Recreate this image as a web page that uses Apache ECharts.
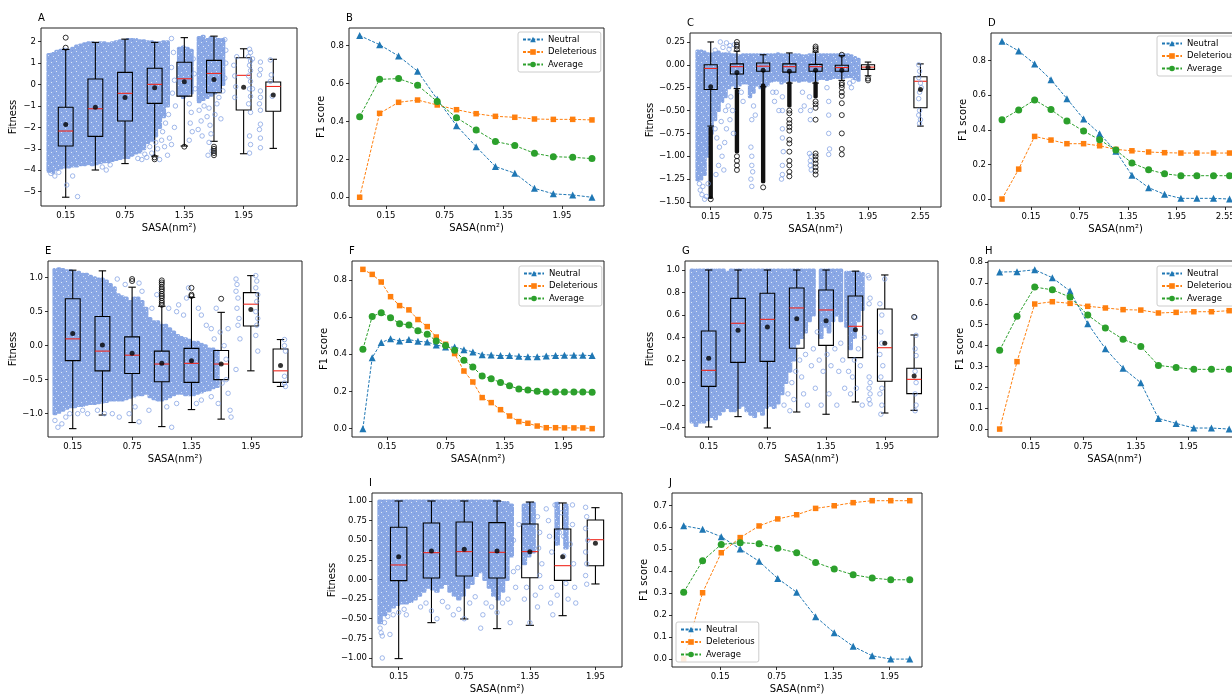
<!DOCTYPE html>
<html><head><meta charset="utf-8">
<script src="https://cdn.jsdelivr.net/npm/echarts@6/dist/echarts.min.js"></script>
<style>html,body{margin:0;padding:0;background:#fff}#c{width:1232px;height:697px}</style>
</head><body><div id="c"></div>
<script>
// ---------------- DATA ----------------
const xTicks = [0.15, 0.75, 1.35, 1.95];
const xTicksWide = [0.15, 0.75, 1.35, 1.95, 2.55];
const seriesNames = ['Neutral', 'Deleterious', 'Average'];

// Box panels: rows = [lowWhisker, Q1, median, Q3, highWhisker]
const A_pos = [0.15, 0.45, 0.75, 1.05, 1.35, 1.65, 1.95, 2.25];
const A_box = [[-5.26,-2.87,-2.17,-1.06,1.64],[-3.99,-2.42,-1.13,0.26,1.97],[-3.69,-1.70,-0.41,0.57,2.12],[-3.34,-0.88,0.01,0.76,1.97],[-2.87,-0.54,0.27,1.04,2.19],[-2.65,-0.38,0.52,1.13,2.26],[-3.23,-1.19,0.43,1.25,1.67],[-2.98,-1.25,-0.09,0.12,1.18]];
const A_mean = [-1.87,-1.06,-0.60,-0.15,0.13,0.24,-0.13,-0.49];
const A_outliers = [[0.15,2.19],[0.15,1.72],[1.05,-3.40],[1.05,-3.49],[1.35,-2.90],[1.65,-2.90],[1.65,-3.00],[1.65,-3.10],[1.65,-3.20],[1.65,-3.30]];
const A_yTicks = [-5,-4,-3,-2,-1,0,1,2];
// dense scatter streaks: [x, low, high]
const A_strips = [[-0.02,-4.05,1.40],[0.02,-4.10,1.45],[0.06,-3.95,1.55],[0.10,-3.90,1.60],[0.14,-3.85,1.65],[0.18,-3.85,1.60],[0.22,-3.80,1.70],[0.26,-3.80,1.80],[0.30,-3.75,1.85],[0.34,-3.75,1.90],[0.38,-3.70,1.95],[0.42,-3.75,1.95],[0.46,-3.70,1.90],[0.50,-3.65,1.95],[0.54,-3.60,1.95],[0.58,-3.60,1.90],[0.62,-3.55,1.95],[0.66,-3.50,2.00],[0.70,-3.45,2.05],[0.74,-3.40,2.05],[0.78,-3.40,2.10],[0.82,-3.30,2.10],[0.86,-3.20,2.10],[0.90,-3.15,2.05],[0.94,-3.00,2.05],[0.98,-2.70,2.00],[1.02,-2.60,2.00],[1.06,-2.40,1.95],[1.10,-2.00,1.95],[1.14,-1.50,2.00],[1.18,-1.00,2.00],[1.30,-0.50,1.70],[1.34,-0.60,1.75],[1.38,-0.50,1.70],[1.42,-0.40,1.60],[1.50,-0.80,2.20],[1.54,-0.70,2.25],[1.58,-0.60,2.10],[1.62,-0.50,2.20],[1.66,-0.40,2.15],[1.70,-0.30,2.10],[1.74,0.00,2.10]];
const A_points = [[0.04,-4.27],[0.16,-4.69],[0.22,-4.27],[0.27,-5.23],[0.0,-4.15],[0.08,-4.1],[0.56,-3.99],[0.52,-3.85],[0.6,-3.75],[0.88,-3.45],[0.92,-3.5],[0.97,-3.4],[0.95,-3.25],[1.0,-2.9],[1.02,-3.2],[1.06,-2.7],[1.08,-3.0],[1.1,-3.5],[1.12,-2.6],[1.13,-2.2],[1.16,-1.8],[1.15,-2.9],[1.19,-1.4],[1.2,-2.5],[1.18,-3.3],[1.22,2.15],[1.24,1.5],[1.22,0.8],[1.25,0.2],[1.23,-0.4],[1.26,-1.0],[1.25,-2.0],[1.22,-2.8],[1.4,-0.9],[1.42,-1.3],[1.41,-1.8],[1.43,-2.2],[1.4,-2.6],[1.44,1.2],[1.45,0.5],[1.46,-0.2],[1.5,-1.2],[1.52,-1.7],[1.49,-2.1],[1.53,-2.4],[1.55,-1.0],[1.6,-1.1],[1.58,-1.5],[1.61,-1.9],[1.62,-2.3],[1.6,-2.7],[1.63,-3.1],[1.59,-3.3],[1.66,-1.4],[1.68,-0.9],[1.7,-0.6],[1.72,-1.6],[1.74,-0.3],[1.76,0.3],[1.77,1.0],[1.77,1.6],[1.76,2.1],[1.85,0.9],[1.86,0.4],[1.87,-0.1],[1.88,1.3],[1.86,-0.6],[2.01,1.65],[2.02,1.5],[2.0,1.3],[2.02,1.1],[2.01,0.9],[2.02,0.65],[2.0,0.4],[2.02,0.15],[2.01,-0.2],[2.02,-0.55],[2.0,-0.9],[2.02,-1.3],[2.01,-2.4],[2.02,-2.8],[2.01,-3.2],[2.04,1.2],[2.04,-0.2],[2.12,1.05],[2.12,0.7],[2.11,0.45],[2.12,-0.3],[2.12,-0.6],[2.11,-0.9],[2.12,-1.2],[2.12,-1.85],[2.11,-2.1],[2.12,-2.5],[2.12,-2.95],[2.22,1.15],[2.23,0.45],[2.22,0.15],[2.24,-0.55]];

const C_pos = [0.15, 0.45, 0.75, 1.05, 1.35, 1.65, 1.95, 2.55];
const C_box = [[-0.67,-0.27,-0.04,0.0,0.25],[-0.26,-0.10,-0.02,0.01,0.15],[-0.24,-0.07,-0.015,0.02,0.11],[-0.20,-0.08,-0.02,0.01,0.13],[-0.20,-0.07,-0.02,0.005,0.14],[-0.17,-0.07,-0.03,-0.005,0.10],[-0.12,-0.05,-0.025,0.0,0.03],[-0.67,-0.47,-0.18,-0.13,0.01]];
const C_mean = [-0.24,-0.085,-0.06,-0.07,-0.06,-0.06,-0.03,-0.27];
const C_outlierStrips = [[0.15,-1.45,-0.69],[0.45,-0.95,-0.28],[0.75,-1.28,-0.22],[1.05,-0.45,-0.20],[1.35,-0.35,-0.20]];
const C_outliers = [[0.15,-1.47],[0.45,0.25],[0.45,0.22],[0.45,0.2],[0.45,0.17],[0.45,-1.0],[0.45,-1.05],[0.45,-1.1],[0.45,-1.15],[0.75,-1.34],[1.05,-0.5],[1.05,-0.53],[1.05,-0.6],[1.05,-0.64],[1.05,-0.68],[1.05,-0.72],[1.05,-0.82],[1.05,-0.86],[1.05,-0.95],[1.05,-1.05],[1.05,-1.1],[1.05,-1.17],[1.05,-1.22],[1.35,0.2],[1.35,0.18],[1.35,0.16],[1.35,-0.4],[1.35,-0.43],[1.35,-0.47],[1.35,-0.6],[1.35,-0.97],[1.35,-1.0],[1.35,-1.04],[1.35,-1.08],[1.35,-1.12],[1.35,-1.16],[1.35,-1.2],[1.65,0.11],[1.65,-0.2],[1.65,-0.22],[1.65,-0.25],[1.65,-0.3],[1.65,-0.34],[1.65,-0.42],[1.65,-0.55],[1.65,-0.75],[1.65,-0.92],[1.65,-0.98],[1.95,-0.15],[1.95,-0.17]];
const C_yTicks = [-1.5,-1.25,-1.0,-0.75,-0.5,-0.25,0,0.25];
const C_strips = [[0.00,-1.26,0.15],[0.04,-1.25,0.15],[0.08,-1.20,0.14],[0.12,-1.00,0.12],[0.16,-0.75,0.12],[0.20,-0.60,0.13],[0.24,-0.50,0.14],[0.28,-0.40,0.12],[0.32,-0.35,0.12],[0.36,-0.25,0.12],[0.40,-0.22,0.11],[0.44,-0.25,0.11],[0.48,-0.22,0.10],[0.52,-0.20,0.11],[0.56,-0.20,0.11],[0.60,-0.35,0.11],[0.64,-0.30,0.11],[0.68,-0.22,0.11],[0.72,-0.25,0.11],[0.76,-0.25,0.11],[0.80,-0.22,0.11],[0.84,-0.18,0.11],[0.88,-0.17,0.11],[0.92,-0.17,0.12],[0.96,-0.20,0.11],[1.00,-0.18,0.11],[1.04,-0.17,0.11],[1.08,-0.17,0.11],[1.12,-0.17,0.11],[1.16,-0.18,0.11],[1.20,-0.17,0.10],[1.24,-0.17,0.10],[1.28,-0.18,0.11],[1.32,-0.17,0.11],[1.36,-0.17,0.11],[1.40,-0.15,0.11],[1.44,-0.15,0.11],[1.48,-0.16,0.11],[1.52,-0.15,0.11],[1.56,-0.14,0.11],[1.60,-0.14,0.11],[1.64,-0.14,0.11],[1.68,-0.14,0.11],[1.72,-0.13,0.11],[1.76,-0.13,0.10],[1.80,-0.15,0.08],[1.84,-0.17,0.06]];
const C_points = [[0.02,-1.3],[0.03,-1.37],[0.05,-1.42],[0.08,-1.47],[0.1,-1.44],[0.06,-1.33],[0.12,-1.3],[0.2,-0.7],[0.22,-0.8],[0.25,-0.9],[0.28,-1.0],[0.24,-1.1],[0.3,-1.15],[0.21,-1.2],[0.27,-0.62],[0.32,-0.5],[0.35,-0.45],[0.33,-0.7],[0.31,-0.85],[0.26,0.25],[0.33,0.24],[0.37,0.21],[0.42,0.22],[0.29,0.19],[0.36,0.17],[0.2,0.16],[0.38,-0.35],[0.4,-0.5],[0.37,-0.6],[0.41,-0.75],[0.52,-0.4],[0.5,-0.3],[0.62,-0.6],[0.61,-0.9],[0.62,-1.0],[0.62,-1.1],[0.63,-1.17],[0.61,-1.25],[0.62,-1.33],[0.64,-0.45],[0.66,-0.55],[0.86,-0.3],[0.88,-0.4],[0.93,-0.5],[0.9,-0.3],[0.97,-0.35],[0.97,-0.5],[0.97,-0.7],[0.97,-0.8],[0.98,-0.95],[0.97,-1.1],[0.97,-1.2],[0.96,-1.25],[1.2,-0.3],[1.22,-0.45],[1.18,-0.5],[1.28,-0.35],[1.29,-0.5],[1.29,-0.6],[1.3,-1.0],[1.29,-1.05],[1.29,-1.1],[1.3,-1.15],[1.28,-0.97],[1.48,-0.25],[1.5,-0.4],[1.5,-0.55],[1.5,-0.75],[1.51,-0.92],[1.5,-0.98],[1.74,-0.2],[1.76,-0.25],[1.78,-0.18],[2.53,0.0],[2.54,-0.07],[2.53,-0.14],[2.55,-0.2],[2.54,-0.3],[2.53,-0.37],[2.54,-0.5],[2.53,-0.55],[2.55,-0.6],[2.54,-0.64],[2.56,-0.25]];

const E_pos = [0.15, 0.45, 0.75, 1.05, 1.35, 1.65, 1.95, 2.25];
const E_box = [[-1.22,-0.22,0.10,0.69,1.11],[-1.02,-0.37,-0.08,0.43,1.10],[-1.13,-0.41,-0.14,0.13,0.86],[-1.19,-0.53,-0.27,-0.08,0.58],[-0.94,-0.54,-0.26,-0.04,0.71],[-1.08,-0.50,-0.27,-0.07,0.49],[-0.37,0.29,0.61,0.78,1.03],[-0.60,-0.54,-0.37,-0.05,0.09]];
const E_mean = [0.18,0.01,-0.11,-0.26,-0.22,-0.27,0.53,-0.29];
const E_outliers = [[0.75,0.95],[0.75,0.98],[1.05,0.60],[1.05,0.63],[1.05,0.66],[1.05,0.70],[1.05,0.73],[1.05,0.76],[1.05,0.80],[1.05,0.83],[1.05,0.86],[1.05,0.90],[1.05,0.93],[1.05,0.96],[1.35,0.85],[1.35,0.75],[1.35,0.73],[1.65,0.69]];
const E_yTicks = [-1.0,-0.5,0,0.5,1.0];
const E_strips = [[-0.03,-1.00,1.12],[0.01,-0.98,1.13],[0.05,-0.95,1.12],[0.09,-0.92,1.10],[0.13,-0.90,1.10],[0.17,-0.90,1.08],[0.21,-0.88,1.08],[0.25,-0.88,1.05],[0.29,-0.86,1.05],[0.33,-0.85,1.02],[0.37,-0.85,1.00],[0.41,-0.84,0.98],[0.45,-0.83,0.98],[0.49,-0.82,0.95],[0.53,-0.80,0.90],[0.57,-0.80,0.85],[0.61,-0.80,0.75],[0.65,-0.80,0.72],[0.69,-0.78,0.70],[0.73,-0.76,0.65],[0.77,-0.74,0.70],[0.81,-0.72,0.70],[0.85,-0.72,0.65],[0.89,-0.70,0.55],[0.93,-0.75,0.40],[0.97,-0.78,0.35],[1.01,-0.80,0.35],[1.05,-0.80,0.30],[1.09,-0.78,0.30],[1.13,-0.75,0.25],[1.17,-0.72,0.20],[1.21,-0.70,0.15],[1.25,-0.70,0.12],[1.29,-0.72,0.10],[1.33,-0.72,0.08],[1.37,-0.72,0.05],[1.41,-0.70,0.05],[1.45,-0.68,0.02],[1.49,-0.66,0.00],[1.53,-0.65,-0.05],[1.57,-0.62,-0.05],[1.61,-0.60,-0.08]];
const E_points = [[-0.03,-1.1],[0.0,-1.2],[0.04,-1.15],[0.08,-1.05],[0.12,-1.0],[0.2,-1.0],[0.25,-0.95],[0.3,-1.0],[0.4,-0.95],[0.47,-1.0],[0.55,-1.0],[0.62,-1.05],[0.72,-1.0],[0.78,-0.9],[0.82,-1.12],[0.92,-0.95],[1.1,-0.9],[1.15,-1.2],[1.2,-0.85],[1.4,-0.85],[1.45,-0.8],[1.55,-0.75],[1.62,-0.85],[0.6,0.98],[0.68,0.9],[0.82,0.92],[0.85,0.8],[0.95,0.55],[1.0,0.75],[1.12,0.55],[1.2,0.5],[1.22,0.6],[1.27,0.45],[1.3,0.7],[1.32,0.85],[1.42,0.55],[1.45,0.45],[1.5,0.3],[1.55,0.25],[1.6,0.55],[1.58,0.1],[1.64,0.2],[1.68,0.0],[1.7,-0.2],[1.7,-0.5],[1.72,-0.7],[1.74,-0.95],[1.75,-1.05],[1.72,0.25],[1.66,-0.55],[1.8,0.98],[1.81,0.9],[1.8,0.8],[1.82,0.7],[1.81,0.55],[1.83,0.4],[1.82,0.3],[1.8,-0.35],[1.84,0.1],[2.0,1.03],[2.01,0.95],[2.0,0.85],[2.02,0.75],[2.01,0.65],[2.0,0.5],[2.02,0.4],[2.01,0.3],[2.0,0.15],[2.02,-0.08],[2.29,0.09],[2.29,0.0],[2.3,-0.08],[2.29,-0.45],[2.29,-0.55],[2.3,-0.6]];

const G_pos = [0.15, 0.45, 0.75, 1.05, 1.35, 1.65, 1.95, 2.25];
const G_box = [[-0.394,-0.033,0.109,0.458,1.0],[-0.302,0.180,0.527,0.748,1.0],[-0.403,0.189,0.562,0.793,1.0],[-0.261,0.305,0.663,0.840,1.0],[-0.281,0.331,0.645,0.822,1.0],[-0.172,0.222,0.500,0.769,0.99],[-0.270,0.012,0.310,0.654,0.956],[-0.246,-0.098,0.029,0.127,0.423]];
const G_mean = [0.216,0.464,0.494,0.568,0.550,0.470,0.349,0.059];
const G_outliers = [[2.25,0.583]];
const G_yTicks = [-0.4,-0.2,0,0.2,0.4,0.6,0.8,1.0];
const G_strips = [[-0.02,-0.35,1.0],[0.02,-0.38,1.0],[0.06,-0.35,1.0],[0.10,-0.35,1.0],[0.14,-0.33,1.0],[0.18,-0.30,1.0],[0.22,-0.32,1.0],[0.26,-0.28,1.0],[0.30,-0.25,1.0],[0.34,-0.22,0.98],[0.38,-0.25,1.0],[0.42,-0.25,1.0],[0.46,-0.22,1.0],[0.50,-0.20,1.0],[0.54,-0.25,1.0],[0.58,-0.28,1.0],[0.62,-0.30,1.0],[0.66,-0.25,1.0],[0.70,-0.28,1.0],[0.74,-0.22,1.0],[0.78,-0.20,1.0],[0.82,-0.22,1.0],[0.86,-0.18,1.0],[0.90,-0.10,1.0],[0.94,0.00,1.0],[0.98,0.10,1.0],[1.02,0.20,1.0],[1.06,0.35,1.0],[1.10,0.40,1.0],[1.14,0.45,1.0],[1.18,0.55,1.0],[1.22,0.60,1.0],[1.30,0.40,1.0],[1.34,0.50,1.0],[1.38,0.45,1.0],[1.42,0.55,1.0],[1.46,0.60,1.0],[1.50,0.55,1.0],[1.56,0.50,0.98],[1.60,0.30,0.98],[1.64,0.40,0.98],[1.68,0.55,0.98],[1.72,0.65,0.97]];
const G_points = [[0.92,-0.2],[0.96,-0.1],[0.98,-0.25],[1.0,0.0],[1.02,-0.15],[1.04,0.1],[1.08,0.2],[1.1,0.05],[1.12,-0.1],[1.14,0.25],[1.16,-0.2],[1.2,0.15],[1.22,0.3],[1.24,-0.05],[1.26,0.45],[1.28,0.2],[1.3,-0.2],[1.32,0.1],[1.36,0.25],[1.38,-0.1],[1.4,0.15],[1.44,0.3],[1.46,-0.2],[1.48,0.1],[1.5,0.35],[1.52,0.2],[1.54,-0.05],[1.58,0.1],[1.6,-0.1],[1.62,0.05],[1.64,0.2],[1.66,-0.05],[1.68,0.3],[1.7,0.15],[1.72,-0.2],[1.74,0.4],[1.79,0.05],[1.8,0.0],[1.79,-0.05],[1.8,-0.1],[1.79,-0.15],[1.8,-0.19],[1.78,0.95],[1.79,0.93],[1.8,0.75],[1.79,0.7],[1.9,0.7],[1.92,0.6],[1.91,0.45],[1.92,0.35],[1.9,0.25],[1.93,0.15],[1.91,0.05],[1.92,-0.05],[1.9,-0.1],[1.92,-0.2],[1.91,-0.28],[1.95,0.92],[2.26,0.58],[2.27,0.42],[2.26,0.3],[2.27,0.24],[2.26,0.1],[2.27,0.0],[2.26,-0.1],[2.27,-0.2],[2.26,-0.25]];

const I_pos = [0.15, 0.45, 0.75, 1.05, 1.35, 1.65, 1.95];
const I_box = [[-1.008,-0.015,0.185,0.665,1.0],[-0.55,0.019,0.342,0.72,1.0],[-0.503,0.045,0.355,0.732,1.0],[-0.626,0.019,0.346,0.724,1.0],[-0.584,0.023,0.355,0.707,0.987],[-0.461,-0.011,0.176,0.643,0.975],[-0.057,0.176,0.507,0.758,0.915]];
const I_mean = [0.291,0.363,0.384,0.363,0.355,0.291,0.461];
const I_yTicks = [-1,-0.75,-0.5,-0.25,0,0.25,0.5,0.75,1];
const I_strips = [[-0.02,-0.55,1.0],[0.02,-0.45,1.0],[0.06,-0.40,1.0],[0.10,-0.35,1.0],[0.14,-0.32,1.0],[0.18,-0.30,1.0],[0.22,-0.30,1.0],[0.26,-0.28,1.0],[0.30,-0.25,1.0],[0.34,-0.20,1.0],[0.38,-0.15,1.0],[0.42,-0.10,1.0],[0.46,-0.12,1.0],[0.50,-0.15,1.0],[0.54,-0.10,1.0],[0.58,-0.05,1.0],[0.62,-0.15,1.0],[0.66,-0.20,1.0],[0.70,-0.25,1.0],[0.74,-0.20,1.0],[0.78,-0.10,1.0],[0.82,-0.05,1.0],[0.86,0.05,1.0],[0.90,0.10,1.0],[0.94,0.00,1.0],[0.98,-0.10,1.0],[1.02,-0.20,1.0],[1.06,-0.25,1.0],[1.10,-0.15,0.98],[1.14,0.00,0.98],[1.18,0.30,0.95],[1.30,0.20,0.95],[1.34,0.30,0.97],[1.38,0.35,0.97],[1.60,0.45,0.97],[1.68,0.40,0.95]];
const I_points = [[0.0,-1.0],[-0.02,-0.62],[-0.01,-0.68],[0.0,-0.72],[0.02,-0.55],[0.05,-0.47],[0.1,-0.45],[0.15,-0.42],[0.2,-0.38],[0.22,-0.45],[0.07,-0.7],[0.35,-0.35],[0.4,-0.3],[0.45,-0.4],[0.5,-0.5],[0.55,-0.28],[0.6,-0.35],[0.65,-0.45],[0.7,-0.38],[0.75,-0.5],[0.8,-0.3],[0.85,-0.22],[0.9,-0.62],[0.92,-0.45],[0.95,-0.3],[1.0,-0.35],[1.05,-0.42],[1.1,-0.3],[1.15,-0.25],[1.17,-0.55],[1.2,0.1],[1.22,-0.1],[1.24,0.15],[1.2,0.5],[1.25,0.7],[1.3,-0.25],[1.32,-0.1],[1.35,-0.55],[1.4,-0.2],[1.42,-0.35],[1.44,0.05],[1.45,-0.1],[1.43,0.4],[1.5,0.9],[1.52,0.75],[1.53,0.55],[1.55,0.35],[1.55,-0.1],[1.54,-0.3],[1.56,-0.45],[1.6,-0.2],[1.62,0.6],[1.64,0.85],[1.66,0.3],[1.68,-0.05],[1.7,-0.25],[1.72,0.45],[1.74,0.7],[1.75,0.2],[1.76,-0.1],[1.77,-0.3],[1.74,0.95],[1.58,0.95],[1.6,0.5],[1.66,0.55],[1.86,0.92],[1.87,0.8],[1.86,0.65],[1.88,0.5],[1.86,0.35],[1.87,0.2],[1.86,0.05],[1.87,-0.06],[1.42,0.8],[1.44,0.6],[1.46,0.2]];

// F1 line panels
const B_x = [-0.119,0.085,0.279,0.473,0.674,0.871,1.072,1.269,1.467,1.668,1.861,2.059,2.256];
const B_neutral = [0.853,0.805,0.745,0.665,0.517,0.378,0.267,0.162,0.127,0.047,0.018,0.012,0.0];
const B_deleterious = [0.0,0.443,0.501,0.513,0.487,0.462,0.441,0.427,0.422,0.413,0.411,0.411,0.408];
const B_average = [0.425,0.622,0.626,0.591,0.505,0.420,0.355,0.294,0.273,0.232,0.214,0.211,0.204];

const D_x = [-0.208,-0.002,0.195,0.397,0.594,0.800,0.998,1.199,1.397,1.603,1.800,2.002,2.199,2.405,2.603];
const D_neutral = [0.912,0.856,0.781,0.690,0.580,0.463,0.378,0.276,0.137,0.066,0.027,0.004,0.004,0.004,0.0];
const D_deleterious = [0.0,0.173,0.362,0.341,0.320,0.320,0.308,0.287,0.279,0.272,0.268,0.266,0.266,0.266,0.266];
const D_average = [0.459,0.515,0.573,0.517,0.451,0.393,0.343,0.283,0.208,0.170,0.146,0.135,0.135,0.135,0.135];

const F_x = [-0.095,0.0,0.092,0.187,0.279,0.374,0.466,0.561,0.653,0.748,0.840,0.935,1.026,1.121,1.213,1.308,1.400,1.495,1.587,1.682,1.774,1.869,1.960,2.056,2.147,2.242];
const F_neutral = [0,0.382,0.463,0.484,0.472,0.479,0.470,0.466,0.450,0.439,0.439,0.425,0.413,0.398,0.396,0.393,0.393,0.389,0.387,0.387,0.391,0.393,0.395,0.395,0.395,0.393];
const F_deleterious = [0.857,0.830,0.789,0.710,0.662,0.639,0.587,0.549,0.493,0.454,0.404,0.310,0.251,0.167,0.140,0.102,0.068,0.038,0.029,0.014,0.005,0.005,0.004,0.004,0.004,0.0];
const F_average = [0.427,0.604,0.624,0.597,0.565,0.558,0.527,0.508,0.472,0.447,0.422,0.368,0.332,0.283,0.269,0.248,0.231,0.213,0.208,0.201,0.197,0.197,0.197,0.197,0.197,0.196];

const H_x = [-0.204,-0.006,0.196,0.397,0.599,0.801,1.002,1.204,1.406,1.607,1.809,2.011,2.212,2.414];
const H_neutral = [0.752,0.754,0.763,0.725,0.661,0.505,0.385,0.291,0.222,0.051,0.027,0.005,0.005,0.0];
const H_deleterious = [0,0.323,0.599,0.610,0.602,0.588,0.580,0.572,0.570,0.556,0.559,0.562,0.562,0.567];
const H_average = [0.377,0.540,0.680,0.667,0.632,0.546,0.484,0.430,0.396,0.305,0.295,0.286,0.286,0.286];

const J_x = [-0.238,-0.037,0.161,0.362,0.563,0.761,0.962,1.163,1.361,1.562,1.764,1.961,2.163];
const J_neutral = [0.607,0.591,0.557,0.501,0.445,0.367,0.304,0.193,0.120,0.058,0.015,0.0,0.0];
const J_deleterious = [0,0.302,0.484,0.553,0.606,0.638,0.657,0.686,0.698,0.712,0.721,0.721,0.721];
const J_average = [0.304,0.448,0.522,0.530,0.525,0.504,0.484,0.440,0.410,0.384,0.369,0.361,0.361];

const F1_ticks8 = [0,0.2,0.4,0.6,0.8];
const H_yTicks = [0,0.1,0.2,0.3,0.4,0.5,0.6,0.7,0.8];
const J_yTicks = [0,0.1,0.2,0.3,0.4,0.5,0.6,0.7];

// ---------------- STYLE / LAYOUT ----------------
const FONT = 'DejaVu Sans';
const BOX_W = 0.15;
const EDGE = '#7d9de2';
const COL = {Neutral:'#1f77b4', Deleterious:'#ff7f0e', Average:'#2ca02c'};
const SYM = {Neutral:['triangle',7], Deleterious:['rect',5.5], Average:['circle',7]};

// speckled texture that imitates many overlapping hollow markers
function makeCloudPattern() {
  const c = document.createElement('canvas');
  c.width = 10; c.height = 10;
  const g = c.getContext('2d');
  g.fillStyle = '#8aa8e5'; g.fillRect(0, 0, 10, 10);
  g.fillStyle = 'rgba(255,255,255,0.7)';
  [[1,2],[6,1],[3,6],[8,5],[5,8]].forEach(p => g.fillRect(p[0], p[1], 1, 1));
  g.fillStyle = 'rgba(110,142,218,0.6)';
  [[4,3],[8,8],[2,0],[0,5]].forEach(p => g.fillRect(p[0], p[1], 1, 1));
  return c;
}
const CLOUD = {image: makeCloudPattern(), repeat: 'repeat'};

const panels = [
  {id:'A', g:[41,28,256,178], x:[-0.10,2.49], y:[-5.67,2.64], yt:A_yTicks, yd:0, xt:xTicks, yName:'Fitness', yGap:23},
  {id:'B', g:[349,28,255,178], x:[-0.228,2.379], y:[-0.046,0.893], yt:F1_ticks8, yd:1, xt:xTicks, yName:'F1 score', yGap:23},
  {id:'C', g:[690,33,251,174], x:[-0.087,2.785], y:[-1.555,0.348], yt:C_yTicks, yd:2, xt:xTicksWide, yName:'Fitness', yGap:34},
  {id:'D', g:[991,33,249,174], x:[-0.344,2.732], y:[-0.046,0.96], yt:F1_ticks8, yd:1, xt:xTicksWide, yName:'F1 score', yGap:22},
  {id:'E', g:[48,261,254,176], x:[-0.10,2.467], y:[-1.343,1.245], yt:E_yTicks, yd:1, xt:xTicks, yName:'Fitness', yGap:30},
  {id:'F', g:[352,261,252,176], x:[-0.206,2.363], y:[-0.045,0.902], yt:F1_ticks8, yd:1, xt:xTicks, yName:'F1 score', yGap:22},
  {id:'G', g:[685,261,253,176], x:[-0.092,2.494], y:[-0.483,1.08], yt:G_yTicks, yd:1, xt:xTicks, yName:'Fitness', yGap:30},
  {id:'H', g:[988,261,253,176], x:[-0.337,2.549], y:[-0.038,0.805], yt:H_yTicks, yd:1, xt:xTicks, yName:'F1 score', yGap:22},
  {id:'I', g:[372,493,250,174], x:[-0.094,2.193], y:[-1.115,1.102], yt:I_yTicks, yd:2, xt:xTicks, yName:'Fitness', yGap:35},
  {id:'J', g:[672,493,250,174], x:[-0.362,2.293], y:[-0.036,0.756], yt:J_yTicks, yd:1, xt:xTicks, yName:'F1 score', yGap:21}
];

function fmt(v, d) {
  const s = Math.abs(v) < 1e-9 ? (0).toFixed(d) : v.toFixed(d);
  return s.replace('-', '\u2212');
}

const grid = [], xAxis = [], yAxis = [], title = [];
panels.forEach((p, i) => {
  grid.push({left:p.g[0], top:p.g[1], width:p.g[2], height:p.g[3], show:true, borderColor:'#222', borderWidth:1, backgroundColor:'transparent', containLabel:false, outerBoundsMode:'none'});
  xAxis.push({type:'value', gridIndex:i, min:p.x[0], max:p.x[1], name:'SASA(nm\u00B2)', nameLocation:'middle', nameGap:17,
    nameTextStyle:{fontFamily:FONT, fontSize:10, color:'#000'},
    axisLine:{show:false, onZero:false}, splitLine:{show:false},
    axisTick:{show:true, inside:false, length:3, lineStyle:{color:'#000', width:0.8}, customValues:p.xt},
    axisLabel:{show:true, customValues:p.xt, formatter:v=>fmt(v,2), fontFamily:FONT, fontSize:8.5, color:'#000', margin:5}});
  yAxis.push({type:'value', gridIndex:i, min:p.y[0], max:p.y[1], name:p.yName, nameLocation:'middle', nameGap:p.yGap, nameRotate:90,
    nameTextStyle:{fontFamily:FONT, fontSize:10, color:'#000'},
    axisLine:{show:false, onZero:false}, splitLine:{show:false},
    axisTick:{show:true, inside:false, length:3, lineStyle:{color:'#000', width:0.8}, customValues:p.yt},
    axisLabel:{show:true, customValues:p.yt, formatter:v=>fmt(v,p.yd), fontFamily:FONT, fontSize:8.5, color:'#000', margin:5}});
  title.push({text:p.id, left:p.g[0]-3, top:p.g[1]-15, padding:0, textStyle:{fontFamily:FONT, fontSize:10, fontWeight:'normal', color:'#000'}});
});

function stripRender(w, fill) {
  return function (params, api) {
    const x = api.value(0);
    const p1 = api.coord([x - w/2, api.value(2)]);
    const p2 = api.coord([x + w/2, api.value(1)]);
    return {type:'rect', shape:{x:p1[0], y:p1[1]-1.5, width:p2[0]-p1[0], height:p2[1]-p1[1]+3, r:1.5}, style:{fill}};
  };
}
function boxRender(params, api) {
  const x = api.value(0);
  const w = api.size([BOX_W, 0])[0];
  const hw = w/2, cw = w/4;
  const pLo = api.coord([x, api.value(1)]);
  const pQ1 = api.coord([x, api.value(2)]);
  const pMed = api.coord([x, api.value(3)]);
  const pQ3 = api.coord([x, api.value(4)]);
  const pHi = api.coord([x, api.value(5)]);
  const cx = pLo[0];
  const ls = {stroke:'#000', lineWidth:1.1};
  return {type:'group', children:[
    {type:'line', shape:{x1:cx,y1:pLo[1],x2:cx,y2:pQ1[1]}, style:ls},
    {type:'line', shape:{x1:cx,y1:pQ3[1],x2:cx,y2:pHi[1]}, style:ls},
    {type:'line', shape:{x1:cx-cw,y1:pLo[1],x2:cx+cw,y2:pLo[1]}, style:ls},
    {type:'line', shape:{x1:cx-cw,y1:pHi[1],x2:cx+cw,y2:pHi[1]}, style:ls},
    {type:'rect', shape:{x:cx-hw,y:pQ3[1],width:w,height:pQ1[1]-pQ3[1]}, style:{stroke:'#000',lineWidth:1.1,fill:'rgba(0,0,0,0)'}},
    {type:'line', shape:{x1:cx-hw,y1:pMed[1],x2:cx+hw,y2:pMed[1]}, style:{stroke:'#f0281e',lineWidth:1.1}}
  ]};
}

const series = [];
function addBoxPanel(i, pos, box, mean, strips, points, outliers, outlierStrips) {
  series.push({type:'custom', xAxisIndex:i, yAxisIndex:i, data:strips, renderItem:stripRender(0.05, CLOUD), silent:true, clip:true, encode:{x:0, y:[1,2]}});
  series.push({type:'scatter', xAxisIndex:i, yAxisIndex:i, data:points, symbol:'circle', symbolSize:4.5, silent:true,
    itemStyle:{color:'rgba(0,0,0,0)', borderColor:EDGE, borderWidth:0.9}});
  series.push({type:'custom', xAxisIndex:i, yAxisIndex:i, data:pos.map((x, k) => [x].concat(box[k])), renderItem:boxRender, silent:true, encode:{x:0, y:[1,2,3,4,5]}});
  if (outlierStrips) {
    series.push({type:'custom', xAxisIndex:i, yAxisIndex:i, data:outlierStrips, renderItem:stripRender(0.05, '#111'), silent:true, encode:{x:0, y:[1,2]}});
  }
  if (outliers) {
    series.push({type:'scatter', xAxisIndex:i, yAxisIndex:i, data:outliers, symbol:'circle', symbolSize:5, silent:true,
      itemStyle:{color:'rgba(0,0,0,0)', borderColor:'#000', borderWidth:1}});
  }
  series.push({type:'scatter', xAxisIndex:i, yAxisIndex:i, data:pos.map((x, k) => [x, mean[k]]), symbol:'circle', symbolSize:5, silent:true, itemStyle:{color:'#000'}});
}
function addLinePanel(i, xs, neu, del, avg) {
  [['Neutral', neu], ['Deleterious', del], ['Average', avg]].forEach(([name, vals]) => {
    series.push({type:'line', name, xAxisIndex:i, yAxisIndex:i, data:xs.map((x, k) => [x, vals[k]]),
      symbol:SYM[name][0], symbolSize:SYM[name][1], showSymbol:true,
      lineStyle:{color:COL[name], width:1, type:[3,1.6]}, itemStyle:{color:COL[name]}, color:COL[name]});
  });
}
addBoxPanel(0, A_pos, A_box, A_mean, A_strips, A_points, A_outliers);
addLinePanel(1, B_x, B_neutral, B_deleterious, B_average);
addBoxPanel(2, C_pos, C_box, C_mean, C_strips, C_points, C_outliers, C_outlierStrips);
addLinePanel(3, D_x, D_neutral, D_deleterious, D_average);
addBoxPanel(4, E_pos, E_box, E_mean, E_strips, E_points, E_outliers);
addLinePanel(5, F_x, F_neutral, F_deleterious, F_average);
addBoxPanel(6, G_pos, G_box, G_mean, G_strips, G_points, G_outliers);
addLinePanel(7, H_x, H_neutral, H_deleterious, H_average);
addBoxPanel(8, I_pos, I_box, I_mean, I_strips, I_points, null);
addLinePanel(9, J_x, J_neutral, J_deleterious, J_average);

function mkLegend(left, top) {
  return {data:seriesNames, orient:'vertical', left, top, align:'left', itemWidth:20, itemHeight:7, itemGap:3.5,
    padding:[3,4,3,4], backgroundColor:'rgba(255,255,255,0.85)', borderColor:'#ccc', borderWidth:1, borderRadius:2,
    selectedMode:false, textStyle:{fontFamily:FONT, fontSize:8.5, color:'#000'}};
}
const legend = [mkLegend(518,32), mkLegend(1157,36), mkLegend(519,266), mkLegend(1157,266), mkLegend(676,622)];

const chart = echarts.init(document.getElementById('c'), null, {renderer:'canvas', width:1232, height:697});
chart.setOption({animation:false, backgroundColor:'#fff', title, grid, xAxis, yAxis, legend, series});
</script></body></html>
